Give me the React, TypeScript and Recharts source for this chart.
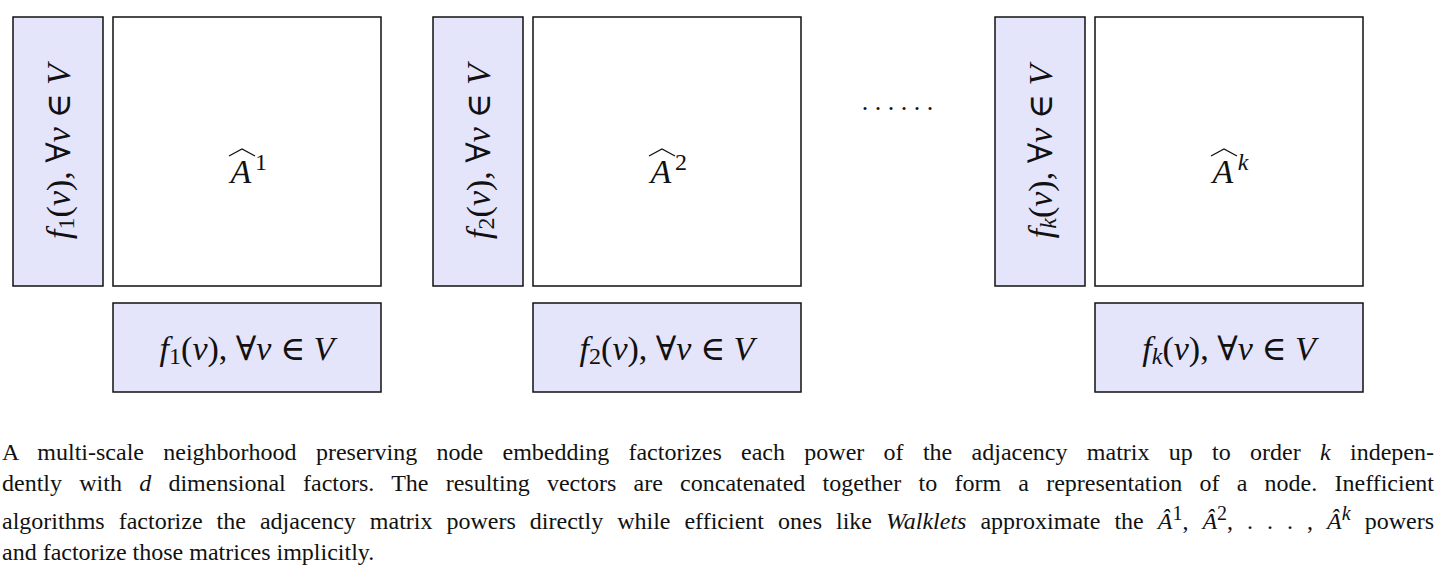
import { ComposedChart, XAxis, YAxis, ReferenceArea } from "recharts";

// data
const orders = ["1", "2", "k"];
const captionLines = [
  "A multi-scale neighborhood preserving node embedding factorizes each power of the adjacency matrix up to order <i>k</i> indepen-",
  "dently with <i>d</i> dimensional factors. The resulting vectors are concatenated together to form a representation of a node. Inefficient",
  "algorithms factorize the adjacency matrix powers directly while efficient ones like <i>Walklets</i> approximate the <i>Â</i><sup>1</sup>, <i>Â</i><sup>2</sup>, . . . , <i>Â</i><sup><i>k</i></sup> powers",
  "and factorize those matrices implicitly.",
];

// layout (pixel units of the diagram)
const W = 1438;
const H = 410;
const groupLeft = [13, 433, 995];
const FILL = "#e4e4fb";
const FONT = "Liberation Serif, Times New Roman, Tinos, Noto Serif, DejaVu Serif, serif";

function FLabel({ vb, sub, rotate }: { vb: any; sub: string; rotate?: boolean }) {
  const cx = vb.x + vb.width / 2;
  const cy = vb.y + vb.height / 2;
  return (
    <text
      x={cx}
      y={cy}
      textAnchor="middle"
      dominantBaseline="central"
      style={{ fontFamily: FONT }}
      fontSize={34}
      fill="#111"
      transform={rotate ? `rotate(-90 ${cx} ${cy})` : undefined}
    >
      <tspan fontStyle="italic">f</tspan>
      <tspan fontSize={24} dy={8} fontStyle={sub === "k" ? "italic" : "normal"}>{sub}</tspan>
      <tspan dy={-8}>(</tspan>
      <tspan fontStyle="italic">v</tspan>
      <tspan>), ∀</tspan>
      <tspan fontStyle="italic">v</tspan>
      <tspan> ∈ </tspan>
      <tspan fontStyle="italic">V</tspan>
    </text>
  );
}

function ALabel({ vb, sup }: { vb: any; sup: string }) {
  const cx = vb.x + vb.width / 2;
  const cy = vb.y + 128 - 17;
  return (
    <g style={{ fontFamily: FONT }} fill="#111">
      <text x={cx - 6} y={cy + 55} textAnchor="middle" fontSize={34} fontStyle="italic">A</text>
      <path d={`M${cx - 18},${cy + 28} L${cx - 5},${cy + 21} L${cx + 8},${cy + 28}`} stroke="#111" strokeWidth={1.3} fill="none" />
      <text x={cx + 14} y={cy + 42} textAnchor="middle" fontSize={24} fontStyle={sup === "k" ? "italic" : "normal"}>{sup}</text>
    </g>
  );
}

export default function App() {
  return (
    <div style={{ position: "absolute", left: 0, top: 0, width: W, height: 569, background: "#fff" }}>
      <ComposedChart width={W} height={H} data={[{ x: 0, y: 0 }]} margin={{ top: 0, right: 0, bottom: 0, left: 0 }}>
        <XAxis type="number" dataKey="x" domain={[0, W]} hide />
        <YAxis type="number" dataKey="y" domain={[0, H]} reversed hide />
        {orders.map((o, i) => {
          const l = groupLeft[i];
          return [
            <ReferenceArea key={`v${i}`} x1={l} x2={l + 90} y1={17} y2={286} fill={FILL} fillOpacity={1} stroke="#111" strokeWidth={1.5} ifOverflow="visible"
              label={{ content: (p: any) => <FLabel vb={p.viewBox} sub={o} rotate /> }} />,
            <ReferenceArea key={`s${i}`} x1={l + 100} x2={l + 368} y1={17} y2={286} fill="#fff" fillOpacity={1} stroke="#111" strokeWidth={1.5} ifOverflow="visible"
              label={{ content: (p: any) => <ALabel vb={p.viewBox} sup={o} /> }} />,
            <ReferenceArea key={`b${i}`} x1={l + 100} x2={l + 368} y1={303} y2={392} fill={FILL} fillOpacity={1} stroke="#111" strokeWidth={1.5} ifOverflow="visible"
              label={{ content: (p: any) => <FLabel vb={p.viewBox} sub={o} /> }} />,
          ];
        })}
        <ReferenceArea x1={855} x2={940} y1={88} y2={113} fillOpacity={0} strokeOpacity={0} ifOverflow="visible"
          label={{ value: ". . . . . .", fontSize: 26, fill: "#111" }} />
      </ComposedChart>
      <div style={{ position: "absolute", left: 2, top: 437, width: 1432, fontFamily: FONT, fontSize: 24, lineHeight: "30.5px", color: "#111" }}>
        {captionLines.map((t, i) => (
          <div key={i} style={{ textAlign: i < 3 ? "justify" : "left", textAlignLast: i < 3 ? "justify" : "left", whiteSpace: "nowrap" }}
            dangerouslySetInnerHTML={{ __html: t }} />
        ))}
      </div>
    </div>
  );
}
